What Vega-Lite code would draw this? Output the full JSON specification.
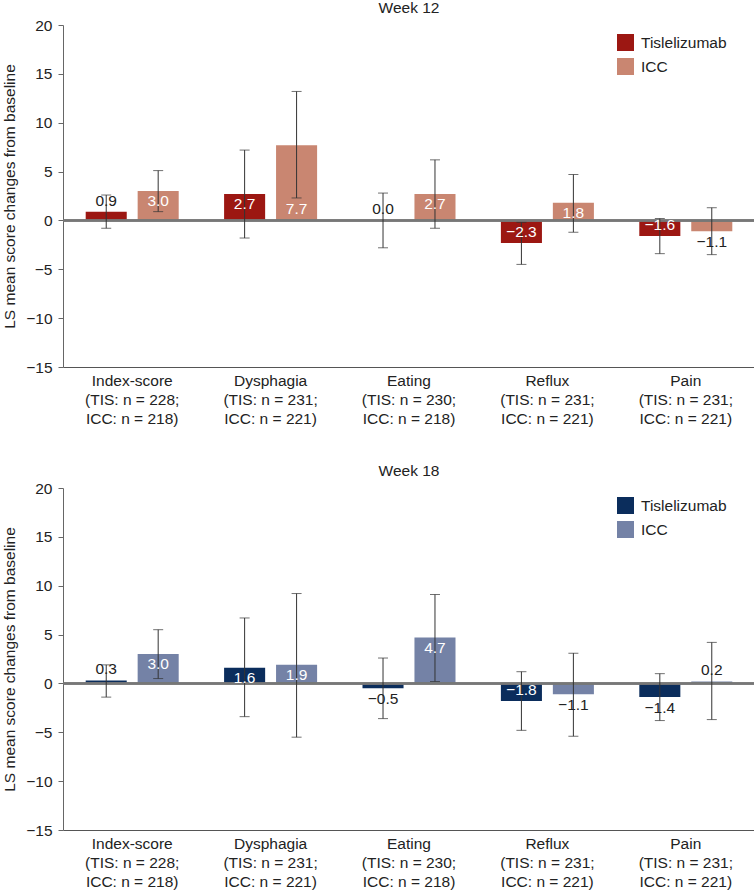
{
  "$schema": "https://vega.github.io/schema/vega-lite/v6.json",
  "padding": {"left": 2, "top": 0, "right": 0, "bottom": 0},
  "config": {
    "font": "Liberation Sans",
    "view": {"stroke": null},
    "title": {"fontSize": 15.5, "fontWeight": "normal", "color": "#222", "anchor": "middle", "offset": 2},
    "axis": {"labelFont": "Liberation Sans", "titleFont": "Liberation Sans"},
    "legend": {"labelFont": "Liberation Sans"}
  },
  "data": {
    "values": [
      {"week": "Week 12", "cat": "Index-score|(TIS: n = 228;|ICC: n = 218)", "group": "Tislelizumab", "value": 0.9, "lo": -0.8, "hi": 2.6},
      {"week": "Week 12", "cat": "Index-score|(TIS: n = 228;|ICC: n = 218)", "group": "ICC", "value": 3.0, "lo": 0.9, "hi": 5.1},
      {"week": "Week 12", "cat": "Dysphagia|(TIS: n = 231;|ICC: n = 221)", "group": "Tislelizumab", "value": 2.7, "lo": -1.8, "hi": 7.2},
      {"week": "Week 12", "cat": "Dysphagia|(TIS: n = 231;|ICC: n = 221)", "group": "ICC", "value": 7.7, "lo": 2.3, "hi": 13.2},
      {"week": "Week 12", "cat": "Eating|(TIS: n = 230;|ICC: n = 218)", "group": "Tislelizumab", "value": 0.0, "lo": -2.8, "hi": 2.8},
      {"week": "Week 12", "cat": "Eating|(TIS: n = 230;|ICC: n = 218)", "group": "ICC", "value": 2.7, "lo": -0.8, "hi": 6.2},
      {"week": "Week 12", "cat": "Reflux|(TIS: n = 231;|ICC: n = 221)", "group": "Tislelizumab", "value": -2.3, "lo": -4.5, "hi": -0.2},
      {"week": "Week 12", "cat": "Reflux|(TIS: n = 231;|ICC: n = 221)", "group": "ICC", "value": 1.8, "lo": -1.2, "hi": 4.7},
      {"week": "Week 12", "cat": "Pain|(TIS: n = 231;|ICC: n = 221)", "group": "Tislelizumab", "value": -1.6, "lo": -3.4, "hi": 0.2},
      {"week": "Week 12", "cat": "Pain|(TIS: n = 231;|ICC: n = 221)", "group": "ICC", "value": -1.1, "lo": -3.5, "hi": 1.3},
      {"week": "Week 18", "cat": "Index-score|(TIS: n = 228;|ICC: n = 218)", "group": "Tislelizumab", "value": 0.3, "lo": -1.4, "hi": 1.9},
      {"week": "Week 18", "cat": "Index-score|(TIS: n = 228;|ICC: n = 218)", "group": "ICC", "value": 3.0, "lo": 0.5, "hi": 5.5},
      {"week": "Week 18", "cat": "Dysphagia|(TIS: n = 231;|ICC: n = 221)", "group": "Tislelizumab", "value": 1.6, "lo": -3.4, "hi": 6.7},
      {"week": "Week 18", "cat": "Dysphagia|(TIS: n = 231;|ICC: n = 221)", "group": "ICC", "value": 1.9, "lo": -5.5, "hi": 9.2},
      {"week": "Week 18", "cat": "Eating|(TIS: n = 230;|ICC: n = 218)", "group": "Tislelizumab", "value": -0.5, "lo": -3.6, "hi": 2.6},
      {"week": "Week 18", "cat": "Eating|(TIS: n = 230;|ICC: n = 218)", "group": "ICC", "value": 4.7, "lo": 0.2, "hi": 9.1},
      {"week": "Week 18", "cat": "Reflux|(TIS: n = 231;|ICC: n = 221)", "group": "Tislelizumab", "value": -1.8, "lo": -4.8, "hi": 1.2},
      {"week": "Week 18", "cat": "Reflux|(TIS: n = 231;|ICC: n = 221)", "group": "ICC", "value": -1.1, "lo": -5.4, "hi": 3.1},
      {"week": "Week 18", "cat": "Pain|(TIS: n = 231;|ICC: n = 221)", "group": "Tislelizumab", "value": -1.4, "lo": -3.8, "hi": 1.0},
      {"week": "Week 18", "cat": "Pain|(TIS: n = 231;|ICC: n = 221)", "group": "ICC", "value": 0.2, "lo": -3.7, "hi": 4.2}
    ]
  },
  "spacing": 36,
  "resolve": {"scale": {"color": "independent"}},
  "vconcat": [
    {
      "title": "Week 12",
      "width": 692,
      "height": 342,
      "transform": [{"filter": "datum.week == 'Week 12'"}],
      "encoding": {
        "x": {"field": "cat", "type": "nominal", "sort": null,
          "scale": {"paddingInner": 0.328, "paddingOuter": 0.164},
          "axis": {"title": null, "labelAngle": 0, "ticks": false, "domainColor": "#555", "labelFontSize": 15.5, "labelColor": "#222", "labelLineHeight": 19, "labelPadding": 6, "labelExpr": "split(datum.label, '|')"}},
        "xOffset": {"field": "group", "type": "nominal", "sort": ["Tislelizumab", "ICC"], "scale": {"paddingInner": 0.21, "paddingOuter": 0}}
      },
      "layer": [
        {
          "mark": {"type": "bar"},
          "encoding": {
            "y": {"field": "value", "type": "quantitative",
              "scale": {"domain": [-15, 20], "nice": false},
              "axis": {"values": [-15, -10, -5, 0, 5, 10, 15, 20], "grid": false, "title": "LS mean score changes from baseline", "titleFontSize": 15.5, "titleFontWeight": "normal", "titleColor": "#222", "labelFontSize": 15.5, "labelColor": "#222", "tickSize": 5, "tickColor": "#666", "domainColor": "#666", "labelPadding": 6, "titlePadding": 8}},
            "color": {"field": "group", "type": "nominal",
              "scale": {"domain": ["Tislelizumab", "ICC"], "range": ["#9c1712", "#c98671"]},
              "legend": {"title": null, "orient": "none", "legendX": 554, "legendY": 9, "padding": 0, "symbolType": "square", "symbolSize": 289, "symbolStrokeWidth": 0, "symbolOpacity": 1, "labelFontSize": 15.5, "labelColor": "#222", "labelOffset": 7, "rowPadding": 7}}
          }
        },
        {"mark": {"type": "rule", "color": "#777", "strokeWidth": 1.5}, "encoding": {"y": {"datum": 0, "type": "quantitative"}, "x": null, "xOffset": null}},
        {"mark": {"type": "rule", "color": "#333", "strokeWidth": 1}, "encoding": {"y": {"field": "lo", "type": "quantitative"}, "y2": {"field": "hi"}}},
        {"mark": {"type": "tick", "color": "#333", "size": 10, "thickness": 1}, "encoding": {"y": {"field": "lo", "type": "quantitative"}}},
        {"mark": {"type": "tick", "color": "#333", "size": 10, "thickness": 1}, "encoding": {"y": {"field": "hi", "type": "quantitative"}}},
        {"transform": [{"filter": "datum.value >= 1.5 && datum.value < 5"}], "mark": {"type": "text", "color": "white", "fontSize": 15.5, "baseline": "top", "dy": 3}, "encoding": {"y": {"field": "value", "type": "quantitative"}, "text": {"field": "value", "type": "quantitative", "format": ".1f"}}},
        {"transform": [{"filter": "datum.value >= 5"}], "mark": {"type": "text", "color": "white", "fontSize": 15.5, "baseline": "bottom", "dy": -3}, "encoding": {"y": {"datum": 0, "type": "quantitative"}, "text": {"field": "value", "type": "quantitative", "format": ".1f"}}},
        {"transform": [{"filter": "datum.value <= -1.5"}], "mark": {"type": "text", "color": "white", "fontSize": 15.5, "baseline": "bottom", "dy": -3}, "encoding": {"y": {"field": "value", "type": "quantitative"}, "text": {"field": "value", "type": "quantitative", "format": ".1f"}}},
        {"transform": [{"filter": "datum.value >= 0 && datum.value < 1.5"}], "mark": {"type": "text", "color": "#222", "fontSize": 15.5, "baseline": "bottom", "dy": -3}, "encoding": {"y": {"field": "value", "type": "quantitative"}, "text": {"field": "value", "type": "quantitative", "format": ".1f"}}},
        {"transform": [{"filter": "datum.value < 0 && datum.value > -1.5"}], "mark": {"type": "text", "color": "#222", "fontSize": 15.5, "baseline": "top", "dy": 4}, "encoding": {"y": {"field": "value", "type": "quantitative"}, "text": {"field": "value", "type": "quantitative", "format": ".1f"}}}
      ]
    },
    {
      "title": "Week 18",
      "width": 692,
      "height": 342,
      "transform": [{"filter": "datum.week == 'Week 18'"}],
      "encoding": {
        "x": {"field": "cat", "type": "nominal", "sort": null,
          "scale": {"paddingInner": 0.328, "paddingOuter": 0.164},
          "axis": {"title": null, "labelAngle": 0, "ticks": false, "domainColor": "#555", "labelFontSize": 15.5, "labelColor": "#222", "labelLineHeight": 19, "labelPadding": 6, "labelExpr": "split(datum.label, '|')"}},
        "xOffset": {"field": "group", "type": "nominal", "sort": ["Tislelizumab", "ICC"], "scale": {"paddingInner": 0.21, "paddingOuter": 0}}
      },
      "layer": [
        {
          "mark": {"type": "bar"},
          "encoding": {
            "y": {"field": "value", "type": "quantitative",
              "scale": {"domain": [-15, 20], "nice": false},
              "axis": {"values": [-15, -10, -5, 0, 5, 10, 15, 20], "grid": false, "title": "LS mean score changes from baseline", "titleFontSize": 15.5, "titleFontWeight": "normal", "titleColor": "#222", "labelFontSize": 15.5, "labelColor": "#222", "tickSize": 5, "tickColor": "#666", "domainColor": "#666", "labelPadding": 6, "titlePadding": 8}},
            "color": {"field": "group", "type": "nominal",
              "scale": {"domain": ["Tislelizumab", "ICC"], "range": ["#0b2d5c", "#7482a6"]},
              "legend": {"title": null, "orient": "none", "legendX": 554, "legendY": 9, "padding": 0, "symbolType": "square", "symbolSize": 289, "symbolStrokeWidth": 0, "symbolOpacity": 1, "labelFontSize": 15.5, "labelColor": "#222", "labelOffset": 7, "rowPadding": 7}}
          }
        },
        {"mark": {"type": "rule", "color": "#777", "strokeWidth": 1.5}, "encoding": {"y": {"datum": 0, "type": "quantitative"}, "x": null, "xOffset": null}},
        {"mark": {"type": "rule", "color": "#333", "strokeWidth": 1}, "encoding": {"y": {"field": "lo", "type": "quantitative"}, "y2": {"field": "hi"}}},
        {"mark": {"type": "tick", "color": "#333", "size": 10, "thickness": 1}, "encoding": {"y": {"field": "lo", "type": "quantitative"}}},
        {"mark": {"type": "tick", "color": "#333", "size": 10, "thickness": 1}, "encoding": {"y": {"field": "hi", "type": "quantitative"}}},
        {"transform": [{"filter": "datum.value >= 1.5 && datum.value < 5"}], "mark": {"type": "text", "color": "white", "fontSize": 15.5, "baseline": "top", "dy": 3}, "encoding": {"y": {"field": "value", "type": "quantitative"}, "text": {"field": "value", "type": "quantitative", "format": ".1f"}}},
        {"transform": [{"filter": "datum.value >= 5"}], "mark": {"type": "text", "color": "white", "fontSize": 15.5, "baseline": "bottom", "dy": -3}, "encoding": {"y": {"datum": 0, "type": "quantitative"}, "text": {"field": "value", "type": "quantitative", "format": ".1f"}}},
        {"transform": [{"filter": "datum.value <= -1.5"}], "mark": {"type": "text", "color": "white", "fontSize": 15.5, "baseline": "bottom", "dy": -3}, "encoding": {"y": {"field": "value", "type": "quantitative"}, "text": {"field": "value", "type": "quantitative", "format": ".1f"}}},
        {"transform": [{"filter": "datum.value >= 0 && datum.value < 1.5"}], "mark": {"type": "text", "color": "#222", "fontSize": 15.5, "baseline": "bottom", "dy": -3}, "encoding": {"y": {"field": "value", "type": "quantitative"}, "text": {"field": "value", "type": "quantitative", "format": ".1f"}}},
        {"transform": [{"filter": "datum.value < 0 && datum.value > -1.5"}], "mark": {"type": "text", "color": "#222", "fontSize": 15.5, "baseline": "top", "dy": 4}, "encoding": {"y": {"field": "value", "type": "quantitative"}, "text": {"field": "value", "type": "quantitative", "format": ".1f"}}}
      ]
    }
  ]
}
